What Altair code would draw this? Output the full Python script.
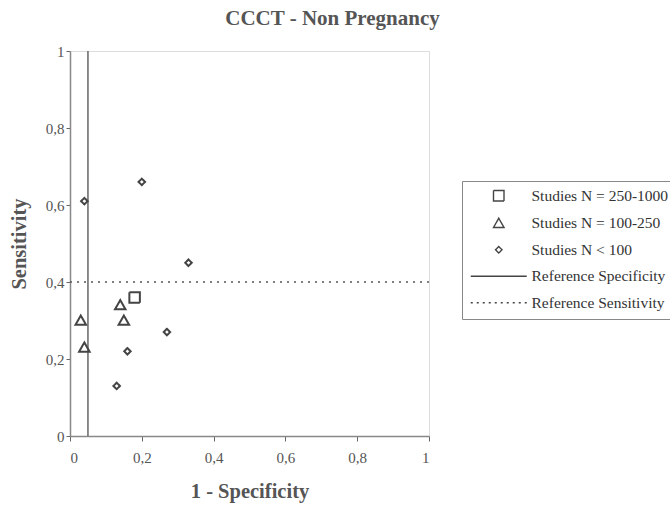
import altair as alt
import pandas as pd

# Legend entries (study size groups plus the two reference lines)
groups = [
    "Studies N = 250-1000",
    "Studies N = 100-250",
    "Studies N < 100",
    "Reference Specificity",
    "Reference Sensitivity",
]

# 1 - specificity / sensitivity pairs per study group
large_x = [0.18]
large_y = [0.36]
mid_x = [0.03, 0.04, 0.14, 0.15]
mid_y = [0.30, 0.23, 0.34, 0.30]
small_x = [0.04, 0.20, 0.33, 0.27, 0.16, 0.13]
small_y = [0.61, 0.66, 0.45, 0.27, 0.22, 0.13]

# Reference thresholds
ref_specificity = [0.05]   # drawn as 1 - specificity
ref_sensitivity = [0.4]

points = pd.DataFrame({
    "fpr": large_x + mid_x + small_x,
    "sens": large_y + mid_y + small_y,
    "group": [groups[0]] * len(large_x) + [groups[1]] * len(mid_x) + [groups[2]] * len(small_x),
})

FONT = "Liberation Serif"

# Symbol outlines in unit coordinates (scaled by sqrt(size)/2 = 5 px)
square_path = "M-1.05,-1.05H1.05V1.05H-1.05Z"
triangle_path = "M0,-1L1.05,0.85H-1.05Z"
diamond_path = "M0,-0.65L0.65,0L0,0.65L-0.65,0Z"
line_path = "M-5.6,0H5.6"

num_labels = "replace(format(datum.value, '~g'), '.', ',')"

x_scale = alt.Scale(domain=[0, 1], nice=False, zero=True)
y_scale = alt.Scale(domain=[0, 1], nice=False, zero=True)

axis_style = dict(
    grid=False, labelExpr=num_labels, values=[0, 0.2, 0.4, 0.6, 0.8, 1],
    domainColor="#888", domainWidth=1.5, tickColor="#666",
    labelFont=FONT, labelFontSize=15, labelColor="#555",
    titleFont=FONT, titleFontSize=20.5, titleFontWeight="bold", titleColor="#555",
)
x_axis = alt.Axis(tickSize=5, labelPadding=9, title="1 - Specificity", titlePadding=16, **axis_style)
y_axis = alt.Axis(tickSize=4, labelPadding=2, title="Sensitivity", titlePadding=16, **axis_style)

legend = alt.Legend(
    title=None, orient="none", legendX=392, legendY=130,
    strokeColor="#888", padding=7, rowPadding=9.5,
    labelFont=FONT, labelFontSize=15.5, labelColor="#333", labelOffset=25,
    symbolSize=100, symbolOffset=22, symbolStrokeWidth=1.4,
)

scatter = alt.Chart(points).mark_point(
    filled=False, color="#444", strokeWidth=2, opacity=1, size=100
).encode(
    x=alt.X("fpr:Q", scale=x_scale, axis=x_axis),
    y=alt.Y("sens:Q", scale=y_scale, axis=y_axis),
    shape=alt.Shape("group:N", scale=alt.Scale(
        domain=groups,
        range=[square_path, triangle_path, diamond_path, line_path, line_path]), legend=legend),
    strokeDash=alt.StrokeDash("group:N", scale=alt.Scale(
        domain=groups, range=[[1, 0], [1, 0], [1, 0], [1, 0], [2, 4]]), legend=legend),
)

spec_rule = alt.Chart(pd.DataFrame({"v": ref_specificity})).mark_rule(
    color="#666", strokeWidth=1.5).encode(x=alt.X("v:Q", scale=x_scale))

sens_rule = alt.Chart(pd.DataFrame({"v": ref_sensitivity})).mark_rule(
    color="#555", strokeWidth=1.5, strokeDash=[2, 5]).encode(y=alt.Y("v:Q", scale=y_scale))

chart = alt.layer(spec_rule, sens_rule, scatter).properties(
    width=359, height=385,
    title=alt.TitleParams("CCCT - Non Pregnancy", font=FONT, fontSize=21, fontWeight="bold",
                          color="#555", offset=15, anchor="middle", dx=83),
    autosize=alt.AutoSizeParams(type="none"),
    padding={"left": 70, "top": 51, "right": 241, "bottom": 70},
).configure_view(
    stroke="#888", strokeWidth=1.5,
).configure(background="white")

chart.save("out.html", embed_options={"renderer": "svg", "actions": False})
